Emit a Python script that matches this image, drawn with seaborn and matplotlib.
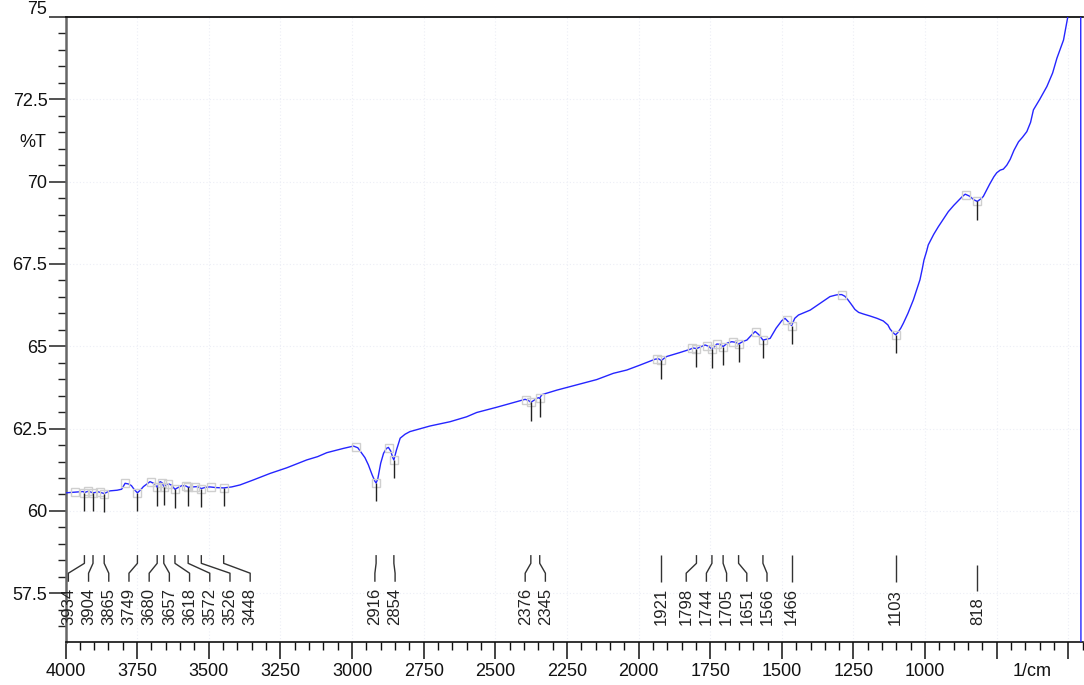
import numpy as np
import pandas as pd
import matplotlib
matplotlib.use("Agg")
import matplotlib.pyplot as plt
from matplotlib.ticker import MultipleLocator, FixedLocator, FixedFormatter
import seaborn as sns

# FTIR transmittance spectrum (wavenumber in 1/cm, transmittance in %T)
wavenumber = [
    4000, 3970, 3938, 3934, 3920, 3904, 3885, 3868, 3865, 3845, 3820, 3804, 3792,
    3780, 3770, 3760, 3749, 3738, 3728, 3705, 3690, 3680, 3670, 3663, 3657, 3641,
    3630, 3618, 3605, 3594, 3580, 3572, 3554, 3540, 3526, 3510, 3496, 3475, 3448,
    3420, 3391, 3345, 3286, 3228, 3158, 3120, 3088, 3030, 3005, 2995, 2980, 2966,
    2955, 2943, 2930, 2920, 2916, 2910, 2900, 2890, 2880, 2873, 2865, 2858, 2854,
    2845, 2832, 2815, 2798, 2728, 2658, 2600, 2565, 2495, 2425, 2396, 2385, 2376,
    2365, 2355, 2350, 2345, 2338, 2285, 2216, 2146, 2088, 2041, 1995, 1942, 1930,
    1921, 1902, 1856, 1820, 1810, 1798, 1768, 1755, 1744, 1727, 1715, 1705, 1690,
    1675, 1660, 1651, 1635, 1622, 1605, 1593, 1580, 1566, 1541, 1520, 1500, 1489,
    1478, 1466, 1455, 1442, 1401, 1366, 1332, 1310, 1300, 1291, 1280, 1270, 1258,
    1245, 1232, 1215, 1192, 1168, 1146, 1130, 1122, 1110, 1103, 1095, 1085, 1076,
    1060, 1041, 1030, 1018, 1010, 1004, 995, 989, 970, 954, 935, 919, 900, 889,
    870, 860, 845, 830, 818, 805, 797, 785, 775, 760, 750, 738, 727, 715, 703,
    690, 674, 660, 645, 632, 622, 600, 575, 555, 540, 517, 503, 490, 470, 457, 456,
]
transmittance = [
    60.55, 60.57, 60.59, 60.56, 60.60, 60.55, 60.58, 60.54, 60.53, 60.61, 60.63,
    60.66, 60.84, 60.82, 60.77, 60.65, 60.55, 60.64, 60.74, 60.89, 60.83, 60.72,
    60.89, 60.86, 60.74, 60.83, 60.78, 60.66, 60.72, 60.77, 60.76, 60.72, 60.73,
    60.74, 60.68, 60.72, 60.73, 60.71, 60.70, 60.73, 60.79, 60.94, 61.14, 61.31,
    61.55, 61.65, 61.77, 61.90, 61.95, 61.97, 61.92, 61.75, 61.62, 61.40, 61.10,
    60.90, 60.85, 60.98, 61.45, 61.75, 61.90, 61.93, 61.82, 61.62, 61.55, 61.85,
    62.21, 62.33, 62.41, 62.58, 62.71, 62.86, 62.99, 63.15, 63.32, 63.39, 63.36,
    63.30, 63.36, 63.42, 63.44, 63.42, 63.53, 63.67, 63.83, 63.99, 64.18, 64.28,
    64.43, 64.61, 64.62, 64.57, 64.69, 64.81, 64.91, 64.95, 64.93, 65.04, 65.00,
    64.91, 65.07, 65.06, 64.99, 65.10, 65.14, 65.12, 65.07, 65.15, 65.19, 65.35,
    65.45, 65.35, 65.19, 65.24, 65.55, 65.78, 65.85, 65.75, 65.63, 65.85, 65.95,
    66.10, 66.31, 66.51, 66.56, 66.57, 66.57, 66.52, 66.42, 66.28, 66.12, 66.03,
    65.98, 65.92, 65.85, 65.77, 65.65, 65.52, 65.40, 65.35, 65.42, 65.55, 65.70,
    66.00, 66.41, 66.70, 67.02, 67.35, 67.62, 67.88, 68.08, 68.40, 68.63, 68.88,
    69.09, 69.28, 69.38, 69.55, 69.62, 69.56, 69.45, 69.40, 69.48, 69.55, 69.75,
    69.92, 70.15, 70.27, 70.35, 70.38, 70.50, 70.68, 70.95, 71.21, 71.35, 71.52,
    71.80, 72.18, 72.50, 72.89, 73.30, 73.75, 74.30, 74.96, 75.60, 76.80, 77.80,
    50.00,
]

# Picked absorption bands (labelled) and intermediate maxima (marked only)
peak_wn = [3934, 3904, 3865, 3749, 3680, 3657, 3618, 3572, 3526, 3448,
           2916, 2854, 2376, 2345, 1921, 1798, 1744, 1705, 1651, 1566,
           1466, 1103, 818]
valley_wn = [3967, 3920, 3880, 3792, 3703, 3664, 3641, 3579, 3548, 3493,
             2986, 2871, 2393, 1936, 1814, 1762, 1727, 1669, 1590, 1482,
             1291, 857]

x_ticks = [4000, 3750, 3500, 3250, 3000, 2750, 2500, 2250, 2000, 1750,
           1500, 1250, 1000, 750, 500]
x_tick_labels = ["4000", "3750", "3500", "3250", "3000", "2750", "2500",
                 "2250", "2000", "1750", "1500", "1250", "1000", "", ""]
y_ticks = [57.5, 60, 62.5, 65, 67.5, 70, 72.5, 75]
y_tick_labels = ["57.5", "60", "62.5", "65", "67.5", "70", "72.5", ""]
top_y_label = "75"

df = pd.DataFrame({"wn": wavenumber, "T": transmittance})

sns.set_theme(style="white")
plt.rcParams["font.family"] = ["Liberation Sans", "DejaVu Sans"]

W, H = 1084, 685
fig = plt.figure(figsize=(W / 100, H / 100), dpi=100)
ax = fig.add_axes([65.5 / W, (H - 641.7) / H, (1083 - 65.5) / W, (641.7 - 17) / H])

XMAX, XMIN = 4000, 449
YMIN, YMAX = 56.03, 75.0

ax.grid(True, which="major", color="#eceef6", linestyle=(0, (1, 2)), linewidth=0.8)
ax.set_axisbelow(True)

sns.lineplot(data=df, x="wn", y="T", sort=False, estimator=None, ax=ax,
             color="#2525ff", linewidth=1.0, zorder=3)

# interpolation helper needs ascending x
wn_arr = np.array(wavenumber[:-1], dtype=float)
t_arr = np.array(transmittance[:-1], dtype=float)
order = np.argsort(wn_arr)


def t_at(x):
    return np.interp(x, wn_arr[order], t_arr[order])


peak_T = t_at(np.array(peak_wn, dtype=float))
valley_T = t_at(np.array(valley_wn, dtype=float))

# square markers on picked points
ax.plot(valley_wn, valley_T, linestyle="none", marker="s", markersize=6,
        markerfacecolor="none", markeredgecolor="#cfcfcf", markeredgewidth=1.0, zorder=4)
ax.plot(peak_wn, peak_T, linestyle="none", marker="s", markersize=6,
        markerfacecolor="none", markeredgecolor="#cfcfcf", markeredgewidth=1.0, zorder=4)

# short drop lines under each picked band
ax.vlines(peak_wn, peak_T - 0.56, peak_T, color="#222222", linewidth=1.0, zorder=5)


def spread_labels(peaks, gap, left_limit):
    clusters = [[p] for p in peaks]

    def place(c):
        start = min(np.mean(c) + gap * (len(c) - 1) / 2, left_limit)
        return [start - gap * k for k in range(len(c))]

    merged = True
    while merged:
        merged = False
        pos = [place(c) for c in clusters]
        for i in range(len(clusters) - 1):
            if pos[i][-1] - pos[i + 1][0] < gap:
                clusters[i] = clusters[i] + clusters[i + 1]
                del clusters[i + 1]
                merged = True
                break
    out = []
    for c in clusters:
        out.extend(place(c))
    return out


label_x = spread_labels(sorted(peak_wn, reverse=True), 70.5, 3990)

TEXT_BOTTOM = 56.54
CHAR_LEN = 0.29
for xp, xl in zip(sorted(peak_wn, reverse=True), label_x):
    s = str(xp)
    top_text = TEXT_BOTTOM + CHAR_LEN * len(s)
    y3 = top_text + 0.15
    y2 = y3 + 0.26
    y1 = y2 + 0.30
    y0 = y1 + 0.25
    ax.plot([xp, xp, xl, xl], [y0, y1, y2, y3], color="#333333", linewidth=1.0,
            zorder=5, solid_capstyle="butt")
    ax.text(xl, TEXT_BOTTOM, s, rotation=90, ha="center", va="bottom",
            fontsize=12, color="#222222", zorder=6)

ax.set_xlim(XMAX, XMIN)
ax.set_ylim(YMIN, YMAX)

ax.xaxis.set_major_locator(FixedLocator(x_ticks))
ax.xaxis.set_major_formatter(FixedFormatter(x_tick_labels))
ax.xaxis.set_minor_locator(MultipleLocator(50))
ax.yaxis.set_major_locator(FixedLocator(y_ticks))
ax.yaxis.set_major_formatter(FixedFormatter(y_tick_labels))
ax.yaxis.set_minor_locator(MultipleLocator(0.5))

ax.tick_params(axis="x", which="major", direction="out", length=12, width=1.1,
               color="#111111", labelsize=13, pad=3.5, labelcolor="#111111")
ax.tick_params(axis="x", which="minor", direction="out", length=6, width=1.0, color="#111111")
ax.tick_params(axis="y", which="major", direction="out", length=12, width=1.1,
               color="#222222", labelsize=13, pad=1, labelcolor="#111111")
ax.tick_params(axis="y", which="minor", direction="out", length=6, width=1.0, color="#222222")
ax.tick_params(bottom=True, left=True, which="both")

ax.set_xlabel("")
ax.set_ylabel("")

ax.spines["right"].set_visible(False)
ax.spines["left"].set_color("#666666")
ax.spines["left"].set_linewidth(1.8)
ax.spines["bottom"].set_color("#111111")
ax.spines["bottom"].set_linewidth(1.2)
ax.spines["top"].set_color("#111111")
ax.spines["top"].set_linewidth(1.3)

# top value label sits above its tick, against the page edge
fig.text(46.7 / W, 1 - 0.5 / H, top_y_label, ha="right", va="top",
         fontsize=13, color="#111111")
fig.text(32.8 / W, 1 - 142.7 / H, "%T", ha="center", va="center", fontsize=13, color="#111111")
fig.text(1032 / W, 1 - 671.5 / H, "1/cm", ha="center", va="center", fontsize=13, color="#111111")

fig.savefig("out.png", dpi=100)
